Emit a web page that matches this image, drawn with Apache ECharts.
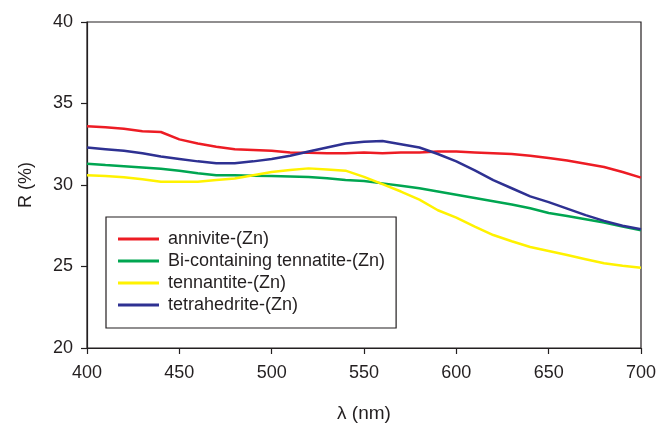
<!DOCTYPE html>
<html>
<head>
<meta charset="utf-8">
<script src="https://cdn.jsdelivr.net/npm/echarts@6/dist/echarts.min.js"></script>
<style>
  html, body { margin: 0; padding: 0; background: #fff; }
  #chart { width: 659px; height: 423px; }
</style>
</head>
<body>
<div id="chart"></div>
<script>
// wavelengths (nm)
var wavelengths = [400, 410, 420, 430, 440, 450, 460, 470, 480, 490, 500, 510, 520, 530, 540, 550,
    560, 570, 580, 590, 600, 610, 620, 630, 640, 650, 660, 670, 680, 690, 700];

// R (%)
var annivite = [33.6, 33.55, 33.45, 33.3, 33.25, 32.8, 32.55, 32.35, 32.2, 32.15, 32.1, 32.0, 31.98, 31.95, 31.95, 32.0,
    31.95, 32.0, 32.0, 32.05, 32.05, 32.0, 31.95, 31.9, 31.8, 31.65, 31.5, 31.3, 31.1, 30.8, 30.45];
var biTennantite = [31.3, 31.22, 31.15, 31.08, 31.0, 30.88, 30.72, 30.6, 30.6, 30.57, 30.55, 30.52, 30.49, 30.42, 30.31, 30.25,
    30.1, 29.95, 29.8, 29.6, 29.4, 29.2, 29.0, 28.8, 28.57, 28.28, 28.1, 27.9, 27.7, 27.45, 27.22];
var tennantite = [30.6, 30.55, 30.47, 30.35, 30.2, 30.2, 30.2, 30.3, 30.4, 30.6, 30.8, 30.92, 31.02, 30.95, 30.88, 30.5,
    30.05, 29.6, 29.1, 28.45, 28.0, 27.45, 26.93, 26.55, 26.2, 25.95, 25.7, 25.45, 25.2, 25.05, 24.93];
var tetrahedrite = [32.3, 32.2, 32.1, 31.95, 31.75, 31.6, 31.45, 31.33, 31.33, 31.45, 31.6, 31.8, 32.05, 32.3, 32.55, 32.65,
    32.7, 32.5, 32.3, 31.9, 31.45, 30.9, 30.3, 29.8, 29.3, 28.95, 28.55, 28.15, 27.8, 27.5, 27.28];

var seriesNames = ['annivite-(Zn)', 'Bi-containing tennatite-(Zn)', 'tennantite-(Zn)', 'tetrahedrite-(Zn)'];
var seriesValues = [annivite, biTennantite, tennantite, tetrahedrite];
var seriesColors = ['#ed1c24', '#00a651', '#fff200', '#2e3192'];

var ink = '#231f20';
var font = '"Liberation Sans", Arial, Helvetica, sans-serif';

function pairs(vals) {
    return wavelengths.map(function (w, i) { return [w, vals[i]]; });
}

var myChart = echarts.init(document.getElementById('chart'), null, { renderer: 'canvas' });

myChart.setOption({
    animation: false,
    backgroundColor: '#fff',
    textStyle: { fontFamily: font },
    grid: {
        left: 87, top: 22, right: 18, bottom: 75,
        outerBoundsMode: 'none',
        containLabel: false,
        show: true, borderColor: ink, borderWidth: 1.2
    },
    legend: {
        orient: 'vertical',
        left: 106, top: 217,
        padding: [13, 11, 14, 12],
        borderColor: ink, borderWidth: 1.2,
        backgroundColor: '#fff',
        icon: 'rect',
        itemWidth: 41, itemHeight: 3,
        itemGap: 4,
        textStyle: { fontSize: 18, color: ink, fontFamily: font, lineHeight: 18, padding: [0, 0, 0, 4] },
        data: seriesNames
    },
    xAxis: {
        type: 'value',
        min: 400, max: 700, interval: 50,
        name: 'λ (nm)', nameLocation: 'middle', nameGap: 56,
        nameTextStyle: { fontSize: 19, color: ink, fontFamily: font },
        axisLine: { lineStyle: { color: ink, width: 1.2 } },
        axisTick: { show: true, length: 6, lineStyle: { color: ink, width: 1.2 } },
        axisLabel: { fontSize: 18, color: ink, margin: 16, fontFamily: font },
        splitLine: { show: false }
    },
    yAxis: {
        type: 'value',
        min: 20, max: 40, interval: 5,
        name: 'R (%)', nameLocation: 'middle', nameGap: 52, nameRotate: 90,
        nameTextStyle: { fontSize: 18, color: ink, fontFamily: font },
        axisLine: { show: true, lineStyle: { color: ink, width: 1.2 } },
        axisTick: { show: true, length: 6, lineStyle: { color: ink, width: 1.2 } },
        axisLabel: { fontSize: 18, color: ink, margin: 14, fontFamily: font },
        splitLine: { show: false }
    },
    series: seriesNames.map(function (name, i) {
        return {
            name: name,
            type: 'line',
            showSymbol: false,
            symbol: 'none',
            color: seriesColors[i],
            lineStyle: { color: seriesColors[i], width: 2.5 },
            data: pairs(seriesValues[i])
        };
    })
});
</script>
</body>
</html>
